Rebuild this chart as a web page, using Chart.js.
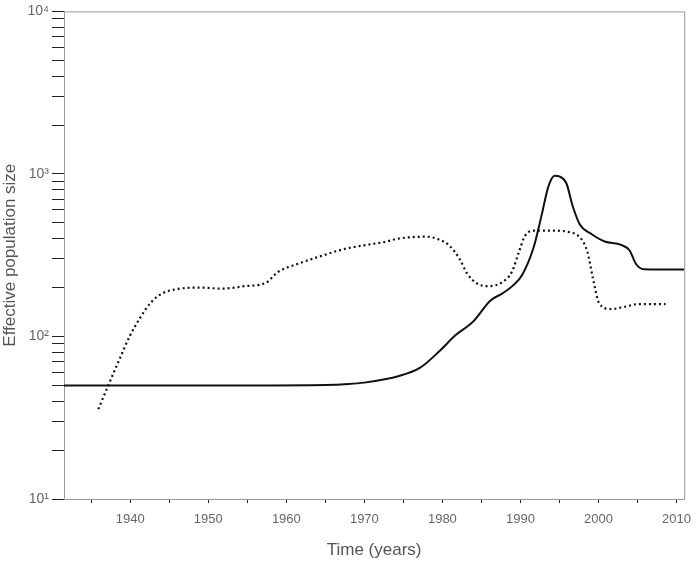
<!DOCTYPE html>
<html>
<head>
<meta charset="utf-8">
<script src="https://cdn.jsdelivr.net/npm/chart.js@4.4.1/dist/chart.umd.min.js"></script>
<style>
  html, body { margin: 0; padding: 0; background: #fff; }
  canvas { display: block; }
</style>
</head>
<body>
<canvas id="c" width="700" height="562"></canvas>
<script>
// ---- Data ----
const solidYears = [1931.5, 1945, 1955, 1965, 1968, 1970, 1972.8, 1974.1, 1977.1, 1979.6, 1981.7, 1983.9, 1986.2, 1987.7, 1989.1, 1990.2, 1991.7, 1992.7, 1993.6, 1994.4, 1995.0, 1995.9, 1996.7, 1997.6, 1999.1, 2000.8, 2002.9, 2004.0, 2004.8, 2005.8, 2008, 2011];
const solidValues = [50, 50, 50, 50.3, 51, 52, 54.7, 56.5, 64, 81, 102, 123, 167, 184, 207, 238, 354, 552, 841, 975, 965, 873, 635, 491, 427, 384, 366, 338, 280, 259, 258, 258];

const dottedYears = [1935.9, 1937.4, 1938.7, 1939.9, 1941.2, 1942.7, 1944.1, 1945.8, 1948.8, 1951.7, 1954.7, 1957.4, 1958.9, 1961.5, 1964.4, 1967.4, 1970.3, 1972.9, 1974.1, 1977.9, 1979.6, 1980.9, 1982.2, 1983.2, 1984.5, 1985.9, 1987.7, 1988.9, 1989.8, 1990.6, 1991.9, 1994.0, 1996.1, 1997.8, 1998.6, 1999.3, 2000.1, 2001.6, 2003.3, 2005.0, 2008.6];
const dottedValues = [35.7, 53, 74, 100, 129, 163, 184, 195, 200, 197, 204, 214, 249, 280, 312, 345, 366, 384, 398, 411, 394, 362, 300, 243, 211, 204, 216, 249, 330, 417, 448, 448, 440, 398, 330, 227, 160, 147.5, 152, 158, 158];

const xTickValues = [1935, 1940, 1945, 1950, 1955, 1960, 1965, 1970, 1975, 1980, 1985, 1990, 1995, 2000, 2005, 2010];
const xTickLabels = ['', '1940', '', '1950', '', '1960', '', '1970', '', '1980', '', '1990', '', '2000', '', '2010'];
const yTickValues = [10, 20, 30, 40, 50, 60, 70, 80, 90, 100, 200, 300, 400, 500, 600, 700, 800, 900, 1000, 2000, 3000, 4000, 5000, 6000, 7000, 8000, 9000, 10000];
const yTickLabels = {10: '10\u00B9', 100: '10\u00B2', 1000: '10\u00B3', 10000: '10\u2074'};

const xTitle = 'Time (years)';
const yTitle = 'Effective population size';

const toPoints = (xs, ys) => xs.map((x, i) => ({x: x, y: ys[i]}));

const framePlugin = {
  id: 'frame',
  beforeDatasetsDraw(chart) {
    const a = chart.chartArea, ctx = chart.ctx;
    ctx.save();
    ctx.strokeStyle = '#9a9a9a';
    ctx.lineWidth = 1;
    ctx.beginPath();
    ctx.moveTo(a.left, a.top + 0.5);
    ctx.lineTo(a.right + 0.5, a.top + 0.5);
    ctx.lineTo(a.right + 0.5, a.bottom);
    ctx.stroke();
    ctx.restore();
  }
};

const FONT = "'Liberation Sans', Arial, sans-serif";

new Chart(document.getElementById('c'), {
  type: 'line',
  data: {
    datasets: [
      {
        data: toPoints(solidYears, solidValues),
        borderColor: '#111',
        borderWidth: 2,
        pointRadius: 0,
        cubicInterpolationMode: 'monotone',
        fill: false
      },
      {
        data: toPoints(dottedYears, dottedValues),
        borderColor: '#111',
        borderWidth: 2.2,
        borderDash: [2, 3],
        borderCapStyle: 'butt',
        pointRadius: 0,
        cubicInterpolationMode: 'monotone',
        fill: false
      }
    ]
  },
  options: {
    responsive: false,
    animation: false,
    layout: { padding: { top: 7, right: 8, left: 0, bottom: 0 } },
    plugins: { legend: { display: false }, tooltip: { enabled: false } },
    scales: {
      x: {
        type: 'linear',
        min: 1931.5,
        max: 2011,
        afterBuildTicks(scale) { scale.ticks = xTickValues.map(v => ({value: v})); },
        afterFit(scale) { scale.height = 63; },
        ticks: {
          callback: (v) => { const i = xTickValues.indexOf(v); return i >= 0 ? xTickLabels[i] : ''; },
          autoSkip: false,
          maxRotation: 0,
          padding: 9,
          color: '#666',
          font: { family: FONT, size: 13 }
        },
        grid: { drawOnChartArea: false, drawTicks: true, tickLength: 4, color: '#222', lineWidth: 1 },
        border: { display: true, color: '#9a9a9a', width: 1 },
        title: { display: true, text: xTitle, color: '#555', font: { family: FONT, size: 17 }, padding: { top: 0, bottom: 1 } }
      },
      y: {
        type: 'logarithmic',
        min: 10,
        max: 10000,
        afterBuildTicks(scale) { scale.ticks = yTickValues.map(v => ({value: v})); },
        afterFit(scale) { scale.width = 64; },
        ticks: {
          callback: (v) => yTickLabels[v] || '',
          autoSkip: false,
          padding: 3,
          color: '#666',
          font: { family: FONT, size: 14 }
        },
        grid: { drawOnChartArea: false, drawTicks: true, tickLength: 12, color: '#222', lineWidth: 1 },
        border: { display: true, color: '#9a9a9a', width: 1 },
        title: { display: true, text: yTitle, color: '#555', font: { family: FONT, size: 17 }, padding: { top: 0, bottom: 0 } }
      }
    }
  },
  plugins: [framePlugin]
});
</script>
</body>
</html>
